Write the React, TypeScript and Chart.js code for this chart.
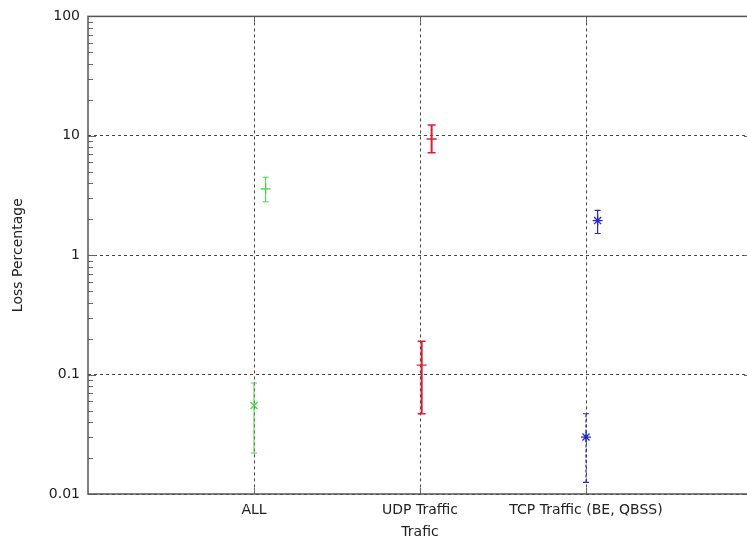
import React, { useEffect, useRef } from "react";
import { Chart, registerables } from "chart.js";

Chart.register(...registerables);

const categories = ["ALL", "UDP Traffic", "TCP Traffic (BE, QBSS)"];
const yTickValues = [0.01, 0.1, 1, 10, 100];
const yTickLabels = ["0.01", "0.1", "1", "10", "100"];

// ALL (green)
const allX = [1.07, 1.0];
const allY = [3.6, 0.055];
const allLow = [2.8, 0.022];
const allHigh = [4.5, 0.085];

// UDP (red)
const udpX = [2.07, 2.01];
const udpY = [9.4, 0.12];
const udpLow = [7.2, 0.047];
const udpHigh = [12.3, 0.19];

// TCP (blue)
const tcpX = [3.07, 3.0];
const tcpY = [1.95, 0.03];
const tcpLow = [1.52, 0.0125];
const tcpHigh = [2.37, 0.047];

const FONT = "'DejaVu Sans', sans-serif";

const series = [
  { name: "ALL", xs: allX, ys: allY, lo: allLow, hi: allHigh, color: "#3ed93e", styles: ["cross", "crossRot"], dash: [[], []], cap: 3, width: 1 },
  { name: "UDP", xs: udpX, ys: udpY, lo: udpLow, hi: udpHigh, color: "#e01c34", styles: ["line", "line"], dash: [[], []], cap: 4, width: 2 },
  { name: "TCP", xs: tcpX, ys: tcpY, lo: tcpLow, hi: tcpHigh, color: "#2424c8", styles: ["star", "star"], dash: [[], [3, 2]], cap: 3, width: 1.2 },
];

const errorBarPlugin = {
  id: "errorBars",
  afterDatasetsDraw(chart: any) {
    const { ctx, scales } = chart;
    const xs = scales.x, ys = scales.y;
    ctx.save();
    series.forEach((s) => {
      s.xs.forEach((xv, i) => {
        const px = xs.getPixelForValue(xv);
        const pLo = ys.getPixelForValue(s.lo[i]);
        const pHi = ys.getPixelForValue(s.hi[i]);
        ctx.strokeStyle = s.color;
        ctx.lineWidth = s.width;
        ctx.setLineDash(s.dash[i]);
        ctx.beginPath();
        ctx.moveTo(px, pLo);
        ctx.lineTo(px, pHi);
        ctx.stroke();
        ctx.setLineDash([]);
        ctx.lineWidth = Math.min(s.width, 1.5);
        ctx.beginPath();
        ctx.moveTo(px - s.cap, pLo);
        ctx.lineTo(px + s.cap, pLo);
        ctx.moveTo(px - s.cap, pHi);
        ctx.lineTo(px + s.cap, pHi);
        ctx.stroke();
      });
    });
    ctx.restore();
  },
};

const framePlugin = {
  id: "frame",
  afterDraw(chart: any) {
    const { ctx, chartArea: a, scales } = chart;
    const ys = scales.y, xs = scales.x;
    ctx.save();
    ctx.strokeStyle = "#666";
    ctx.lineWidth = 1;
    ctx.beginPath();
    for (let d = -2; d <= 1; d++) {
      for (let m = 2; m <= 9; m++) {
        const y = Math.round(ys.getPixelForValue(m * Math.pow(10, d))) + 0.5;
        ctx.moveTo(a.left, y);
        ctx.lineTo(a.left + 5, y);
        ctx.moveTo(a.right - 5, y);
        ctx.lineTo(a.right, y);
      }
    }
    yTickValues.forEach((v) => {
      const y = Math.round(ys.getPixelForValue(v)) + 0.5;
      ctx.moveTo(a.left, y);
      ctx.lineTo(a.left + 8, y);
      ctx.moveTo(a.right - 8, y);
      ctx.lineTo(a.right, y);
    });
    [1, 2, 3].forEach((v) => {
      const x = Math.round(xs.getPixelForValue(v)) + 0.5;
      ctx.moveTo(x, a.bottom);
      ctx.lineTo(x, a.bottom - 6);
      ctx.moveTo(x, a.top);
      ctx.lineTo(x, a.top + 6);
    });
    ctx.stroke();
    ctx.strokeStyle = "#555";
    ctx.lineWidth = 1.5;
    ctx.strokeRect(a.left, a.top, a.right - a.left, a.bottom - a.top);
    ctx.restore();
  },
};

export default function App() {
  const ref = useRef<HTMLCanvasElement>(null);
  useEffect(() => {
    if (!ref.current) return;
    const chart = new Chart(ref.current, {
      type: "scatter",
      data: {
        datasets: series.map((s) => ({
          label: s.name,
          data: s.xs.map((x, i) => ({ x, y: s.ys[i] })),
          pointStyle: s.styles as any,
          pointRadius: 5,
          pointBorderWidth: 1.3,
          borderColor: s.color,
          backgroundColor: s.color,
          pointBackgroundColor: s.color,
          pointBorderColor: s.color,
          showLine: false,
        })),
      },
      options: {
        animation: false,
        responsive: false,
        devicePixelRatio: 1,
        layout: { padding: { left: 0, top: 14, right: 18, bottom: 0 } },
        plugins: { legend: { display: false }, tooltip: { enabled: false } },
        scales: {
          x: {
            type: "linear",
            min: 0,
            max: 4,
            afterBuildTicks: (scale: any) => {
              scale.ticks = [1, 2, 3].map((v) => ({ value: v }));
            },
            afterFit: (scale: any) => {
              scale.height = 51;
            },
            ticks: {
              padding: 8,
              maxRotation: 0,
              autoSkip: false,
              color: "#222",
              font: { family: FONT, size: 14 },
              callback: (v: any) => categories[Number(v) - 1] ?? "",
            },
            grid: { color: "#444", drawTicks: false, lineWidth: 1 },
            border: { display: false, dash: [3, 3] },
            title: {
              display: true,
              text: "Trafic",
              color: "#222",
              font: { family: FONT, size: 14 },
              padding: { top: 0, bottom: 4 },
            },
          },
          y: {
            type: "logarithmic",
            min: 0.01,
            max: 100,
            afterBuildTicks: (scale: any) => {
              scale.ticks = yTickValues.map((v) => ({ value: v }));
            },
            afterFit: (scale: any) => {
              scale.width = 88;
            },
            ticks: {
              padding: 8,
              autoSkip: false,
              color: "#222",
              font: { family: FONT, size: 14 },
              callback: (v: any) => {
                const idx = yTickValues.indexOf(Number(v));
                return idx >= 0 ? yTickLabels[idx] : "";
              },
            },
            grid: { color: "#444", drawTicks: false, lineWidth: 1 },
            border: { display: false, dash: [3, 3] },
            title: {
              display: true,
              text: "Loss Percentage",
              color: "#222",
              font: { family: FONT, size: 14 },
              padding: { top: 10, bottom: 0 },
            },
          },
        },
      },
      plugins: [errorBarPlugin, framePlugin],
    });
    return () => chart.destroy();
  }, []);
  return (
    <div style={{ position: "absolute", left: 0, top: 0, width: 747, height: 545, overflow: "hidden", background: "#fff" }}>
      <canvas ref={ref} width={770} height={545} style={{ display: "block", width: 770, height: 545 }} />
    </div>
  );
}
